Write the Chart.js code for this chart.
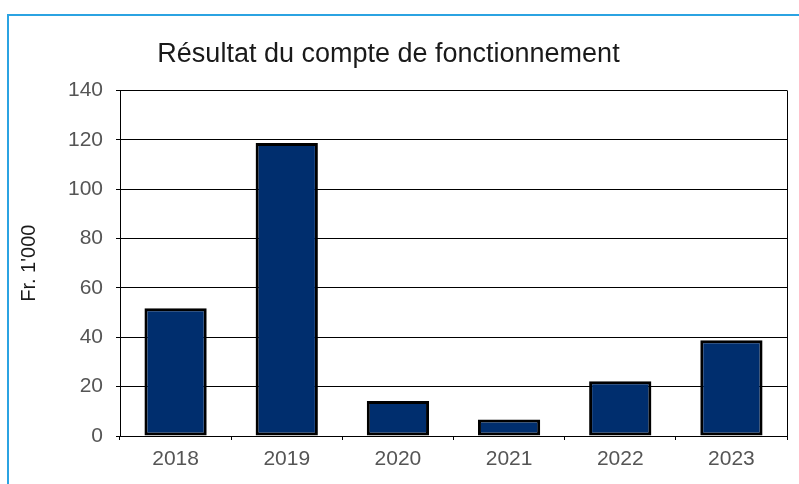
<!DOCTYPE html>
<html>
<head>
<meta charset="utf-8">
<script src="https://cdn.jsdelivr.net/npm/chart.js@4"></script>
<style>
  html, body { margin: 0; padding: 0; background: #fff; overflow: hidden; }
  #frame { position: absolute; left: 7px; top: 14px; right: 0; bottom: 0;
           border-top: 2px solid #2ba3e2; border-left: 2px solid #2ba3e2; }
  #wrap { position: absolute; left: -10px; top: 0; width: 809px; height: 484px; }
</style>
</head>
<body>
<div id="frame"></div>
<div id="wrap"><canvas id="ResultChart"></canvas></div>
<script>
var years = ['2018', '2019', '2020', '2021', '2022', '2023'];
var resultat = [51.7, 118.7, 14.2, 6.7, 22.2, 38.8];
var yTicks = [0, 20, 40, 60, 80, 100, 120, 140];

var fontFamily = '"Liberation Sans", Arial, sans-serif';

// right edge of the plot frame
var plotFrame = {
    id: 'plotFrame',
    afterDraw: function (chart) {
        var c = chart.ctx, a = chart.chartArea;
        c.save();
        c.strokeStyle = '#000';
        c.lineWidth = 1;
        c.beginPath();
        c.moveTo(Math.round(a.right) + 0.5, a.top);
        c.lineTo(Math.round(a.right) + 0.5, a.bottom);
        c.stroke();
        c.restore();
    }
};

var ctx = document.getElementById('ResultChart');

var ResultChart = new Chart(ctx, {
    type: 'bar',
    data: {
        labels: years,
        datasets: [{
            label: 'Résultat',
            data: resultat,
            backgroundColor: '#002e6e',
            borderColor: '#000',
            borderWidth: 3,
            borderSkipped: false,
            barPercentage: 0.56,
            categoryPercentage: 1
        }]
    },
    options: {
        responsive: true,
        maintainAspectRatio: false,
        animation: false,
        layout: { padding: { left: 0, right: 12, top: 0, bottom: 0 } },
        plugins: {
            legend: { display: false },
            tooltip: { enabled: false },
            title: {
                display: true,
                text: 'Résultat du compte de fonctionnement',
                color: '#1a1a1a',
                font: { family: fontFamily, size: 27, weight: 'normal' },
                padding: { top: 38, bottom: 20 }
            }
        },
        scales: {
            x: {
                afterFit: function (scale) { scale.height = 48; },
                grid: { drawOnChartArea: false, color: '#000', tickLength: 4, lineWidth: 1 },
                border: { color: '#000', width: 1 },
                ticks: {
                    color: '#555',
                    padding: 7,
                    font: { family: fontFamily, size: 21 }
                }
            },
            y: {
                min: 0,
                max: 140,
                afterFit: function (scale) { scale.width = 130; },
                afterBuildTicks: function (scale) {
                    scale.ticks = yTicks.map(function (v) { return { value: v }; });
                },
                grid: { color: '#000', tickLength: 4, lineWidth: 1 },
                border: { color: '#000', width: 1 },
                ticks: {
                    color: '#555',
                    padding: 13,
                    font: { family: fontFamily, size: 21 }
                },
                title: {
                    display: true,
                    text: "Fr. 1'000",
                    color: '#1a1a1a',
                    font: { family: fontFamily, size: 20 },
                    padding: { top: 27, bottom: 0 }
                }
            }
        }
    },
    plugins: [plotFrame]
});
</script>
</body>
</html>
